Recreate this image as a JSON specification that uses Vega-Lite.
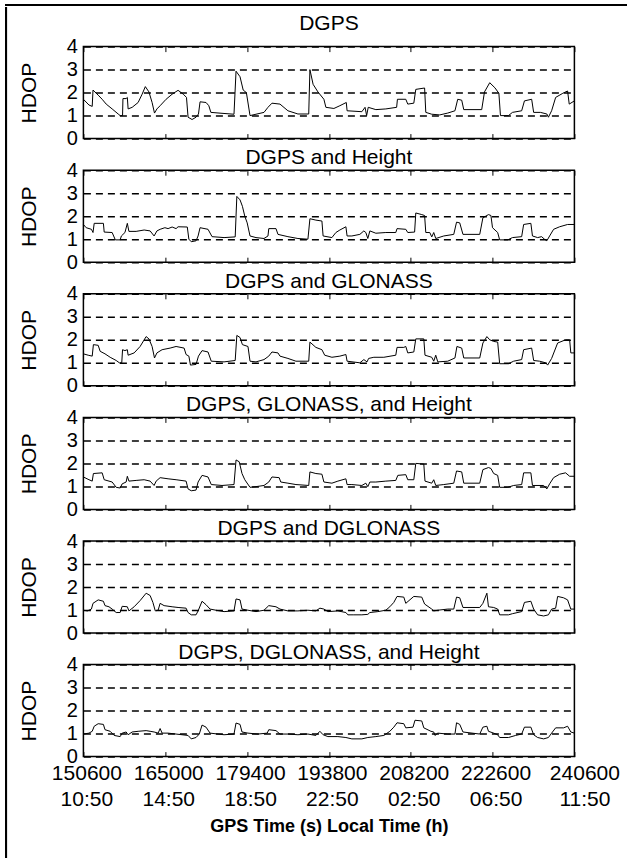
{
  "$schema": "https://vega.github.io/schema/vega-lite/v6.json",
  "background": "white",
  "padding": {"left": 5, "top": 4, "right": 0, "bottom": 0},
  "config": {
    "font": "Liberation Sans",
    "view": {"stroke": "black", "strokeWidth": 1.5},
    "title": {"fontSize": 21, "fontWeight": "normal", "color": "black", "offset": -8, "font": "Liberation Sans"},
    "axis": {"labelColor": "black", "titleColor": "black", "labelFont": "Liberation Sans", "titleFont": "Liberation Sans"},
    "axisX": {"domain": false, "grid": false, "labels": false, "tickSize": -5, "tickColor": "black", "tickWidth": 1},
    "axisY": {"domain": false, "ticks": false, "grid": true, "gridDash": [7, 5], "gridColor": "black", "gridWidth": 1.5, "gridOpacity": 1, "labelFontSize": 20, "labelPadding": 6, "labelOverlap": false, "titleFontSize": 21, "titleFontWeight": "normal", "titlePadding": 27},
    "line": {"color": "black", "strokeWidth": 1}
  },
  "spacing": 0,
  "bounds": "full",
  "datasets": {
    "dgps": [
      {"t":150600,"h":1.71},{"t":151580,"h":1.46},{"t":152150,"h":1.40},{"t":152290,"h":2.11},{"t":153200,"h":1.89},{"t":153900,"h":1.71},{"t":154610,"h":1.50},{"t":155660,"h":1.29},{"t":156720,"h":1.07},{"t":157070,"h":1.00},{"t":157490,"h":1.00},{"t":157560,"h":1.74},{"t":158120,"h":1.74},{"t":158330,"h":1.79},{"t":158470,"h":1.29},{"t":159180,"h":1.36},{"t":160230,"h":1.57},{"t":160930,"h":1.93},{"t":161500,"h":2.26},{"t":162130,"h":2.03},{"t":162690,"h":1.57},{"t":163110,"h":1.11},{"t":163540,"h":1.29},{"t":164100,"h":1.43},{"t":165150,"h":1.71},{"t":166210,"h":1.93},{"t":167260,"h":2.10},{"t":168180,"h":1.93},{"t":168740,"h":1.79},{"t":169020,"h":0.93},{"t":169720,"h":0.83},{"t":170420,"h":0.93},{"t":170850,"h":1.07},{"t":171130,"h":1.60},{"t":172180,"h":1.57},{"t":172670,"h":1.43},{"t":173030,"h":1.14},{"t":174990,"h":1.10},{"t":177100,"h":1.06},{"t":177460,"h":2.93},{"t":178160,"h":2.69},{"t":178720,"h":2.11},{"t":179280,"h":2.00},{"t":179920,"h":1.00},{"t":180970,"h":1.06},{"t":182380,"h":1.14},{"t":183080,"h":1.36},{"t":183780,"h":1.54},{"t":185190,"h":1.50},{"t":186590,"h":1.21},{"t":188350,"h":1.07},{"t":190250,"h":1.07},{"t":190460,"h":3.00},{"t":191020,"h":2.36},{"t":191870,"h":2.03},{"t":192920,"h":1.71},{"t":193270,"h":1.36},{"t":194680,"h":1.31},{"t":195730,"h":1.43},{"t":196860,"h":1.57},{"t":197000,"h":1.21},{"t":199600,"h":1.17},{"t":200160,"h":1.36},{"t":200440,"h":1.00},{"t":200720,"h":1.36},{"t":202060,"h":1.26},{"t":203820,"h":1.29},{"t":205720,"h":1.36},{"t":205860,"h":1.71},{"t":207330,"h":1.71},{"t":207680,"h":1.50},{"t":208740,"h":1.54},{"t":209090,"h":2.14},{"t":210640,"h":2.20},{"t":210850,"h":1.14},{"t":211900,"h":1.06},{"t":213310,"h":1.03},{"t":214710,"h":1.11},{"t":215980,"h":1.21},{"t":216470,"h":1.71},{"t":217170,"h":1.67},{"t":217530,"h":1.26},{"t":220690,"h":1.26},{"t":221180,"h":2.03},{"t":222100,"h":2.43},{"t":223010,"h":2.21},{"t":223710,"h":1.97},{"t":223990,"h":1.00},{"t":225400,"h":1.00},{"t":226100,"h":1.14},{"t":227720,"h":1.21},{"t":228210,"h":1.64},{"t":229480,"h":1.71},{"t":229830,"h":1.14},{"t":231020,"h":1.14},{"t":232150,"h":1.07},{"t":232430,"h":0.93},{"t":232990,"h":1.21},{"t":233700,"h":1.79},{"t":234960,"h":1.97},{"t":235800,"h":2.07},{"t":236090,"h":1.50},{"t":237000,"h":1.64}
    ],
    "dgps_height": [
      {"t":150600,"h":1.64},{"t":151090,"h":1.50},{"t":152010,"h":1.43},{"t":152290,"h":1.29},{"t":152500,"h":1.69},{"t":154120,"h":1.69},{"t":154260,"h":1.31},{"t":155660,"h":1.29},{"t":156220,"h":0.97},{"t":157070,"h":0.97},{"t":157280,"h":1.14},{"t":157910,"h":1.29},{"t":158330,"h":1.69},{"t":158610,"h":1.34},{"t":159880,"h":1.34},{"t":161290,"h":1.40},{"t":162340,"h":1.36},{"t":163040,"h":1.14},{"t":163540,"h":1.36},{"t":164100,"h":1.43},{"t":164940,"h":1.50},{"t":165500,"h":1.46},{"t":166210,"h":1.53},{"t":166910,"h":1.46},{"t":167260,"h":1.54},{"t":168880,"h":1.53},{"t":169160,"h":1.00},{"t":169580,"h":0.89},{"t":170420,"h":0.93},{"t":170780,"h":1.14},{"t":171130,"h":1.50},{"t":172530,"h":1.43},{"t":173240,"h":1.11},{"t":175350,"h":1.07},{"t":177310,"h":1.10},{"t":177600,"h":2.86},{"t":178160,"h":2.71},{"t":178580,"h":2.43},{"t":179000,"h":2.00},{"t":179420,"h":1.71},{"t":179920,"h":1.14},{"t":180970,"h":1.07},{"t":182380,"h":1.03},{"t":183080,"h":1.14},{"t":183220,"h":1.46},{"t":184490,"h":1.46},{"t":184840,"h":1.21},{"t":186590,"h":1.11},{"t":188350,"h":1.03},{"t":190110,"h":1.00},{"t":190460,"h":1.89},{"t":191510,"h":1.83},{"t":192570,"h":1.79},{"t":192780,"h":1.14},{"t":194330,"h":1.07},{"t":195030,"h":1.29},{"t":195730,"h":1.40},{"t":196790,"h":1.54},{"t":197000,"h":1.14},{"t":197840,"h":1.14},{"t":199250,"h":1.21},{"t":199950,"h":1.36},{"t":200300,"h":1.29},{"t":200650,"h":1.03},{"t":201010,"h":1.36},{"t":202060,"h":1.26},{"t":203820,"h":1.29},{"t":205570,"h":1.29},{"t":205790,"h":1.46},{"t":207330,"h":1.43},{"t":207680,"h":1.29},{"t":208880,"h":1.31},{"t":209090,"h":2.14},{"t":210140,"h":2.07},{"t":210640,"h":2.03},{"t":210850,"h":1.29},{"t":211550,"h":1.29},{"t":211900,"h":1.10},{"t":212250,"h":1.29},{"t":212600,"h":1.03},{"t":214010,"h":1.14},{"t":215770,"h":1.21},{"t":216260,"h":1.74},{"t":216820,"h":1.71},{"t":217390,"h":1.21},{"t":220340,"h":1.21},{"t":220900,"h":1.93},{"t":221880,"h":2.07},{"t":222310,"h":2.03},{"t":222590,"h":1.50},{"t":223500,"h":1.29},{"t":223850,"h":0.97},{"t":225260,"h":0.97},{"t":226100,"h":1.07},{"t":227720,"h":1.11},{"t":228070,"h":1.64},{"t":229340,"h":1.69},{"t":229620,"h":1.14},{"t":230530,"h":1.07},{"t":231230,"h":1.11},{"t":231730,"h":1.00},{"t":232150,"h":0.93},{"t":232640,"h":1.14},{"t":233340,"h":1.43},{"t":234400,"h":1.54},{"t":235800,"h":1.64},{"t":237000,"h":1.64}
    ],
    "dgps_glonass": [
      {"t":150600,"h":1.39},{"t":151440,"h":1.33},{"t":152150,"h":1.29},{"t":152360,"h":1.79},{"t":153200,"h":1.76},{"t":153550,"h":1.50},{"t":154400,"h":1.39},{"t":155310,"h":1.24},{"t":156370,"h":1.10},{"t":156930,"h":1.00},{"t":157350,"h":1.00},{"t":157490,"h":1.57},{"t":157910,"h":1.53},{"t":158330,"h":1.57},{"t":158470,"h":1.33},{"t":159530,"h":1.43},{"t":160580,"h":1.71},{"t":161640,"h":2.14},{"t":162130,"h":2.04},{"t":162690,"h":1.71},{"t":163110,"h":1.21},{"t":163540,"h":1.43},{"t":164450,"h":1.57},{"t":165860,"h":1.64},{"t":166910,"h":1.71},{"t":168320,"h":1.64},{"t":168670,"h":1.36},{"t":169160,"h":1.29},{"t":169440,"h":0.90},{"t":170420,"h":0.93},{"t":170850,"h":1.29},{"t":171480,"h":1.53},{"t":172530,"h":1.47},{"t":173100,"h":1.07},{"t":175350,"h":1.04},{"t":177310,"h":1.10},{"t":177600,"h":2.19},{"t":178160,"h":2.10},{"t":178580,"h":1.79},{"t":179560,"h":1.71},{"t":179920,"h":1.07},{"t":180970,"h":1.04},{"t":182380,"h":1.14},{"t":183220,"h":1.29},{"t":183780,"h":1.47},{"t":184840,"h":1.43},{"t":185190,"h":1.29},{"t":186590,"h":1.19},{"t":188000,"h":1.07},{"t":189760,"h":1.07},{"t":190250,"h":1.07},{"t":190460,"h":1.90},{"t":191510,"h":1.67},{"t":192570,"h":1.57},{"t":193060,"h":1.33},{"t":194330,"h":1.24},{"t":195730,"h":1.29},{"t":196790,"h":1.36},{"t":197000,"h":1.07},{"t":199250,"h":1.00},{"t":199950,"h":1.14},{"t":200510,"h":1.04},{"t":200790,"h":1.19},{"t":201710,"h":1.24},{"t":203470,"h":1.24},{"t":205570,"h":1.33},{"t":205790,"h":1.67},{"t":206980,"h":1.67},{"t":207330,"h":1.71},{"t":207680,"h":1.43},{"t":208740,"h":1.47},{"t":209090,"h":2.04},{"t":210500,"h":2.04},{"t":210710,"h":1.33},{"t":211900,"h":1.24},{"t":212250,"h":1.07},{"t":212600,"h":1.33},{"t":212960,"h":1.04},{"t":214710,"h":1.07},{"t":215980,"h":1.21},{"t":216330,"h":1.71},{"t":217170,"h":1.64},{"t":217530,"h":1.21},{"t":220340,"h":1.21},{"t":220900,"h":1.86},{"t":221600,"h":2.14},{"t":222100,"h":2.00},{"t":222800,"h":1.93},{"t":223500,"h":1.90},{"t":223850,"h":0.96},{"t":225400,"h":0.96},{"t":226310,"h":1.07},{"t":227720,"h":1.14},{"t":228070,"h":1.57},{"t":229480,"h":1.64},{"t":229830,"h":1.10},{"t":230880,"h":1.07},{"t":231940,"h":1.00},{"t":232290,"h":0.90},{"t":232990,"h":1.19},{"t":234050,"h":1.86},{"t":235450,"h":2.00},{"t":236160,"h":2.00},{"t":236370,"h":1.43},{"t":237000,"h":1.43}
    ],
    "dgps_glonass_height": [
      {"t":150600,"h":1.41},{"t":151580,"h":1.29},{"t":152150,"h":1.23},{"t":152360,"h":1.56},{"t":153900,"h":1.59},{"t":154260,"h":1.29},{"t":155660,"h":1.19},{"t":156370,"h":0.96},{"t":157070,"h":0.93},{"t":157420,"h":1.11},{"t":158120,"h":1.19},{"t":158330,"h":1.44},{"t":158610,"h":1.23},{"t":159880,"h":1.26},{"t":161290,"h":1.29},{"t":162340,"h":1.23},{"t":163040,"h":1.04},{"t":163400,"h":1.23},{"t":164100,"h":1.38},{"t":165500,"h":1.33},{"t":166910,"h":1.29},{"t":168670,"h":1.23},{"t":169020,"h":0.89},{"t":169580,"h":0.81},{"t":170420,"h":0.84},{"t":170780,"h":1.19},{"t":171480,"h":1.48},{"t":172530,"h":1.41},{"t":173100,"h":1.08},{"t":174990,"h":1.04},{"t":177100,"h":1.08},{"t":177460,"h":2.15},{"t":178020,"h":2.07},{"t":178510,"h":1.56},{"t":179000,"h":1.29},{"t":179920,"h":0.96},{"t":180970,"h":0.99},{"t":182380,"h":1.04},{"t":183220,"h":1.19},{"t":183780,"h":1.41},{"t":185050,"h":1.38},{"t":185330,"h":1.19},{"t":186590,"h":1.14},{"t":188000,"h":1.08},{"t":190250,"h":1.04},{"t":190460,"h":1.63},{"t":191510,"h":1.56},{"t":192570,"h":1.53},{"t":192920,"h":1.19},{"t":194330,"h":1.14},{"t":195380,"h":1.23},{"t":196790,"h":1.33},{"t":197000,"h":1.08},{"t":197840,"h":1.08},{"t":199600,"h":1.04},{"t":200300,"h":1.14},{"t":200650,"h":0.99},{"t":201010,"h":1.19},{"t":202060,"h":1.19},{"t":203820,"h":1.23},{"t":205570,"h":1.26},{"t":205930,"h":1.48},{"t":207330,"h":1.51},{"t":207680,"h":1.29},{"t":208740,"h":1.29},{"t":209090,"h":2.00},{"t":210500,"h":1.97},{"t":210710,"h":1.23},{"t":211900,"h":1.14},{"t":212250,"h":1.29},{"t":212600,"h":1.04},{"t":214010,"h":1.08},{"t":215770,"h":1.14},{"t":216260,"h":1.67},{"t":217170,"h":1.63},{"t":217530,"h":1.14},{"t":220340,"h":1.14},{"t":220900,"h":1.73},{"t":221880,"h":1.82},{"t":222310,"h":1.78},{"t":222800,"h":1.56},{"t":223500,"h":1.48},{"t":223850,"h":0.96},{"t":225260,"h":0.96},{"t":226310,"h":1.04},{"t":227720,"h":1.08},{"t":228070,"h":1.59},{"t":229340,"h":1.59},{"t":229620,"h":1.04},{"t":231590,"h":1.04},{"t":232150,"h":0.89},{"t":232640,"h":1.11},{"t":233340,"h":1.38},{"t":234400,"h":1.53},{"t":235450,"h":1.59},{"t":236160,"h":1.44},{"t":237000,"h":1.44}
    ],
    "dgps_dglonass": [
      {"t":150600,"h":0.99},{"t":151300,"h":0.96},{"t":152010,"h":1.04},{"t":152290,"h":1.29},{"t":153200,"h":1.44},{"t":154120,"h":1.38},{"t":154400,"h":1.19},{"t":155100,"h":1.14},{"t":155660,"h":1.04},{"t":156370,"h":0.89},{"t":157070,"h":0.89},{"t":157420,"h":1.16},{"t":158330,"h":1.14},{"t":158610,"h":0.96},{"t":159530,"h":1.14},{"t":160580,"h":1.41},{"t":161640,"h":1.73},{"t":162340,"h":1.63},{"t":162830,"h":1.33},{"t":163250,"h":0.96},{"t":163750,"h":0.99},{"t":164100,"h":1.29},{"t":164800,"h":1.19},{"t":166210,"h":1.14},{"t":167260,"h":1.11},{"t":168670,"h":1.08},{"t":169020,"h":0.89},{"t":169580,"h":0.79},{"t":170420,"h":0.79},{"t":170780,"h":0.96},{"t":171480,"h":1.38},{"t":172180,"h":1.23},{"t":172890,"h":1.04},{"t":173940,"h":0.99},{"t":175350,"h":0.93},{"t":177100,"h":0.96},{"t":177460,"h":1.48},{"t":178160,"h":1.44},{"t":178510,"h":1.04},{"t":179560,"h":0.99},{"t":180970,"h":0.93},{"t":182380,"h":0.99},{"t":183220,"h":1.19},{"t":184490,"h":1.14},{"t":185190,"h":1.04},{"t":186590,"h":0.96},{"t":188350,"h":0.96},{"t":190110,"h":0.99},{"t":191510,"h":0.96},{"t":192220,"h":1.08},{"t":192920,"h":1.04},{"t":193620,"h":0.93},{"t":195380,"h":0.96},{"t":196790,"h":0.89},{"t":197140,"h":0.79},{"t":198190,"h":0.79},{"t":199600,"h":0.79},{"t":200650,"h":0.81},{"t":201010,"h":0.89},{"t":202410,"h":0.93},{"t":203820,"h":0.99},{"t":204520,"h":1.14},{"t":205220,"h":1.33},{"t":205790,"h":1.59},{"t":206980,"h":1.56},{"t":207330,"h":1.29},{"t":208740,"h":1.59},{"t":210140,"h":1.56},{"t":210640,"h":1.26},{"t":211900,"h":1.04},{"t":212250,"h":0.96},{"t":212960,"h":0.99},{"t":214710,"h":1.04},{"t":215770,"h":1.04},{"t":216260,"h":1.56},{"t":216820,"h":1.53},{"t":217390,"h":1.11},{"t":220340,"h":1.11},{"t":220900,"h":1.29},{"t":221600,"h":1.73},{"t":221880,"h":1.14},{"t":222800,"h":1.11},{"t":223500,"h":1.04},{"t":223850,"h":0.79},{"t":225400,"h":0.79},{"t":226100,"h":0.84},{"t":227720,"h":0.93},{"t":228210,"h":1.33},{"t":229340,"h":1.38},{"t":229830,"h":1.04},{"t":230530,"h":0.79},{"t":231590,"h":0.74},{"t":232430,"h":0.79},{"t":232990,"h":1.04},{"t":233700,"h":1.08},{"t":234050,"h":1.59},{"t":235100,"h":1.53},{"t":235800,"h":1.44},{"t":236370,"h":1.04},{"t":237000,"h":1.04}
    ],
    "dgps_dglonass_height": [
      {"t":150600,"h":0.98},{"t":151580,"h":1.02},{"t":152150,"h":1.10},{"t":152500,"h":1.32},{"t":153200,"h":1.43},{"t":154120,"h":1.40},{"t":154400,"h":1.17},{"t":155310,"h":1.10},{"t":156010,"h":0.92},{"t":157070,"h":0.87},{"t":157420,"h":1.02},{"t":158120,"h":1.07},{"t":158470,"h":0.95},{"t":159180,"h":1.07},{"t":160230,"h":1.10},{"t":161640,"h":1.13},{"t":162340,"h":1.10},{"t":163040,"h":1.07},{"t":163750,"h":1.02},{"t":164100,"h":1.22},{"t":164450,"h":1.02},{"t":165500,"h":1.02},{"t":166910,"h":0.98},{"t":169020,"h":0.92},{"t":169580,"h":0.77},{"t":170420,"h":0.83},{"t":170990,"h":0.98},{"t":171480,"h":1.37},{"t":172180,"h":1.28},{"t":172890,"h":1.02},{"t":174290,"h":0.98},{"t":175350,"h":0.95},{"t":177100,"h":0.98},{"t":177460,"h":1.46},{"t":178160,"h":1.40},{"t":178510,"h":1.07},{"t":179560,"h":1.02},{"t":181320,"h":0.98},{"t":182940,"h":1.02},{"t":183220,"h":1.17},{"t":184490,"h":1.13},{"t":185190,"h":0.98},{"t":186590,"h":0.98},{"t":188350,"h":0.95},{"t":190110,"h":0.98},{"t":191510,"h":0.92},{"t":192220,"h":1.10},{"t":192780,"h":0.95},{"t":193620,"h":0.87},{"t":195380,"h":0.87},{"t":196790,"h":0.83},{"t":197840,"h":0.77},{"t":199600,"h":0.77},{"t":200650,"h":0.83},{"t":202060,"h":0.87},{"t":203470,"h":0.92},{"t":204520,"h":1.10},{"t":205220,"h":1.28},{"t":205790,"h":1.47},{"t":206980,"h":1.43},{"t":207330,"h":1.25},{"t":208600,"h":1.28},{"t":208950,"h":1.58},{"t":210140,"h":1.55},{"t":210500,"h":1.25},{"t":211760,"h":1.10},{"t":212250,"h":1.07},{"t":212460,"h":0.92},{"t":212960,"h":1.02},{"t":214710,"h":0.98},{"t":215980,"h":0.98},{"t":216260,"h":1.47},{"t":216820,"h":1.40},{"t":217390,"h":1.07},{"t":220340,"h":0.98},{"t":220900,"h":1.28},{"t":221600,"h":1.32},{"t":221880,"h":1.10},{"t":222800,"h":1.02},{"t":223500,"h":0.95},{"t":223850,"h":0.83},{"t":225400,"h":0.83},{"t":226660,"h":0.92},{"t":227720,"h":0.98},{"t":228210,"h":1.28},{"t":229340,"h":1.28},{"t":229830,"h":0.95},{"t":230530,"h":0.83},{"t":231590,"h":0.77},{"t":232430,"h":0.83},{"t":232990,"h":1.02},{"t":233700,"h":1.25},{"t":235100,"h":1.25},{"t":235800,"h":1.32},{"t":236370,"h":1.07},{"t":237000,"h":1.02}
    ]
  },
  "vconcat": [
    {"width": 622, "height": 0.1, "data": {"values": []}, "mark": "point", "encoding": {}, "view": {"stroke": "black", "strokeWidth": 2}},
    {
      "hconcat": [
        {"width": 0.1, "height": 856, "data": {"values": []}, "mark": "point", "encoding": {}, "view": {"stroke": "black", "strokeWidth": 2}},
        {
          "spacing": 31.6,
          "bounds": "flush",
          "vconcat": [
            {"width": 491, "height": 6.4, "data": {"values": []}, "mark": "point", "encoding": {}, "view": {"stroke": null}},
            {
              "title": {"text": "DGPS", "offset": 3}, "width": 491, "height": 92, "data": {"name": "dgps"},
              "resolve": {"axis": {"x": "independent"}},
              "layer": [
                {"mark": "line", "encoding": {
                  "x": {"field": "t", "type": "quantitative", "scale": {"domain": [150600, 237000], "nice": false, "zero": false}, "axis": {"orient": "bottom", "values": [150600,165000,179400,193800,208200,222600,237000], "title": null}},
                  "y": {"field": "h", "type": "quantitative", "scale": {"domain": [0, 4], "nice": false}, "axis": {"values": [0,1,2,3,4], "title": "HDOP"}}}},
                {"mark": {"type": "line", "opacity": 0}, "encoding": {
                  "x": {"field": "t", "type": "quantitative", "axis": {"orient": "top", "values": [150600,165000,179400,193800,208200,222600,237000], "title": null}}}}
              ]
            },
            {
              "title": "DGPS and Height", "width": 491, "height": 92, "data": {"name": "dgps_height"},
              "resolve": {"axis": {"x": "independent"}},
              "layer": [
                {"mark": "line", "encoding": {
                  "x": {"field": "t", "type": "quantitative", "scale": {"domain": [150600, 237000], "nice": false, "zero": false}, "axis": {"orient": "bottom", "values": [150600,165000,179400,193800,208200,222600,237000], "title": null}},
                  "y": {"field": "h", "type": "quantitative", "scale": {"domain": [0, 4], "nice": false}, "axis": {"values": [0,1,2,3,4], "title": "HDOP"}}}},
                {"mark": {"type": "line", "opacity": 0}, "encoding": {
                  "x": {"field": "t", "type": "quantitative", "axis": {"orient": "top", "values": [150600,165000,179400,193800,208200,222600,237000], "title": null}}}}
              ]
            },
            {
              "title": "DGPS and GLONASS", "width": 491, "height": 92, "data": {"name": "dgps_glonass"},
              "resolve": {"axis": {"x": "independent"}},
              "layer": [
                {"mark": "line", "encoding": {
                  "x": {"field": "t", "type": "quantitative", "scale": {"domain": [150600, 237000], "nice": false, "zero": false}, "axis": {"orient": "bottom", "values": [150600,165000,179400,193800,208200,222600,237000], "title": null}},
                  "y": {"field": "h", "type": "quantitative", "scale": {"domain": [0, 4], "nice": false}, "axis": {"values": [0,1,2,3,4], "title": "HDOP"}}}},
                {"mark": {"type": "line", "opacity": 0}, "encoding": {
                  "x": {"field": "t", "type": "quantitative", "axis": {"orient": "top", "values": [150600,165000,179400,193800,208200,222600,237000], "title": null}}}}
              ]
            },
            {
              "title": "DGPS, GLONASS, and Height", "width": 491, "height": 92, "data": {"name": "dgps_glonass_height"},
              "resolve": {"axis": {"x": "independent"}},
              "layer": [
                {"mark": "line", "encoding": {
                  "x": {"field": "t", "type": "quantitative", "scale": {"domain": [150600, 237000], "nice": false, "zero": false}, "axis": {"orient": "bottom", "values": [150600,165000,179400,193800,208200,222600,237000], "title": null}},
                  "y": {"field": "h", "type": "quantitative", "scale": {"domain": [0, 4], "nice": false}, "axis": {"values": [0,1,2,3,4], "title": "HDOP"}}}},
                {"mark": {"type": "line", "opacity": 0}, "encoding": {
                  "x": {"field": "t", "type": "quantitative", "axis": {"orient": "top", "values": [150600,165000,179400,193800,208200,222600,237000], "title": null}}}}
              ]
            },
            {
              "title": "DGPS and DGLONASS", "width": 491, "height": 92, "data": {"name": "dgps_dglonass"},
              "resolve": {"axis": {"x": "independent"}},
              "layer": [
                {"mark": "line", "encoding": {
                  "x": {"field": "t", "type": "quantitative", "scale": {"domain": [150600, 237000], "nice": false, "zero": false}, "axis": {"orient": "bottom", "values": [150600,165000,179400,193800,208200,222600,237000], "title": null}},
                  "y": {"field": "h", "type": "quantitative", "scale": {"domain": [0, 4], "nice": false}, "axis": {"values": [0,1,2,3,4], "title": "HDOP"}}}},
                {"mark": {"type": "line", "opacity": 0}, "encoding": {
                  "x": {"field": "t", "type": "quantitative", "axis": {"orient": "top", "values": [150600,165000,179400,193800,208200,222600,237000], "title": null}}}}
              ]
            },
            {
              "title": "DGPS, DGLONASS, and Height", "width": 491, "height": 92, "data": {"name": "dgps_dglonass_height"},
              "resolve": {"axis": {"x": "independent"}},
              "layer": [
                {"mark": "line", "encoding": {
                  "x": {"field": "t", "type": "quantitative", "scale": {"domain": [150600, 237000], "nice": false, "zero": false}, "axis": {"orient": "bottom", "values": [150600,165000,179400,193800,208200,222600,237000], "labels": true, "labelExpr": "[datum.value == 237000 ? '240600' : '' + datum.value, ['10:50','14:50','18:50','22:50','02:50','06:50','11:50'][round((datum.value - 150600) / 14400)]]", "labelFontSize": 21, "labelLineHeight": 26, "labelPadding": 11, "labelOffset": {"condition": {"test": "datum.value == 237000", "value": 10}, "value": 3}, "labelOverlap": false, "labelFlush": false, "labelBound": false, "title": "GPS Time (s) Local Time (h)", "titleFontSize": 18, "titleFontWeight": "bold", "titlePadding": 8}},
                  "y": {"field": "h", "type": "quantitative", "scale": {"domain": [0, 4], "nice": false}, "axis": {"values": [0,1,2,3,4], "title": "HDOP"}}}},
                {"mark": {"type": "line", "opacity": 0}, "encoding": {
                  "x": {"field": "t", "type": "quantitative", "axis": {"orient": "top", "values": [150600,165000,179400,193800,208200,222600,237000], "title": null}}}}
              ]
            }
          ]
        }
      ],
      "spacing": 9.4,
      "bounds": "full"
    }
  ]
}
